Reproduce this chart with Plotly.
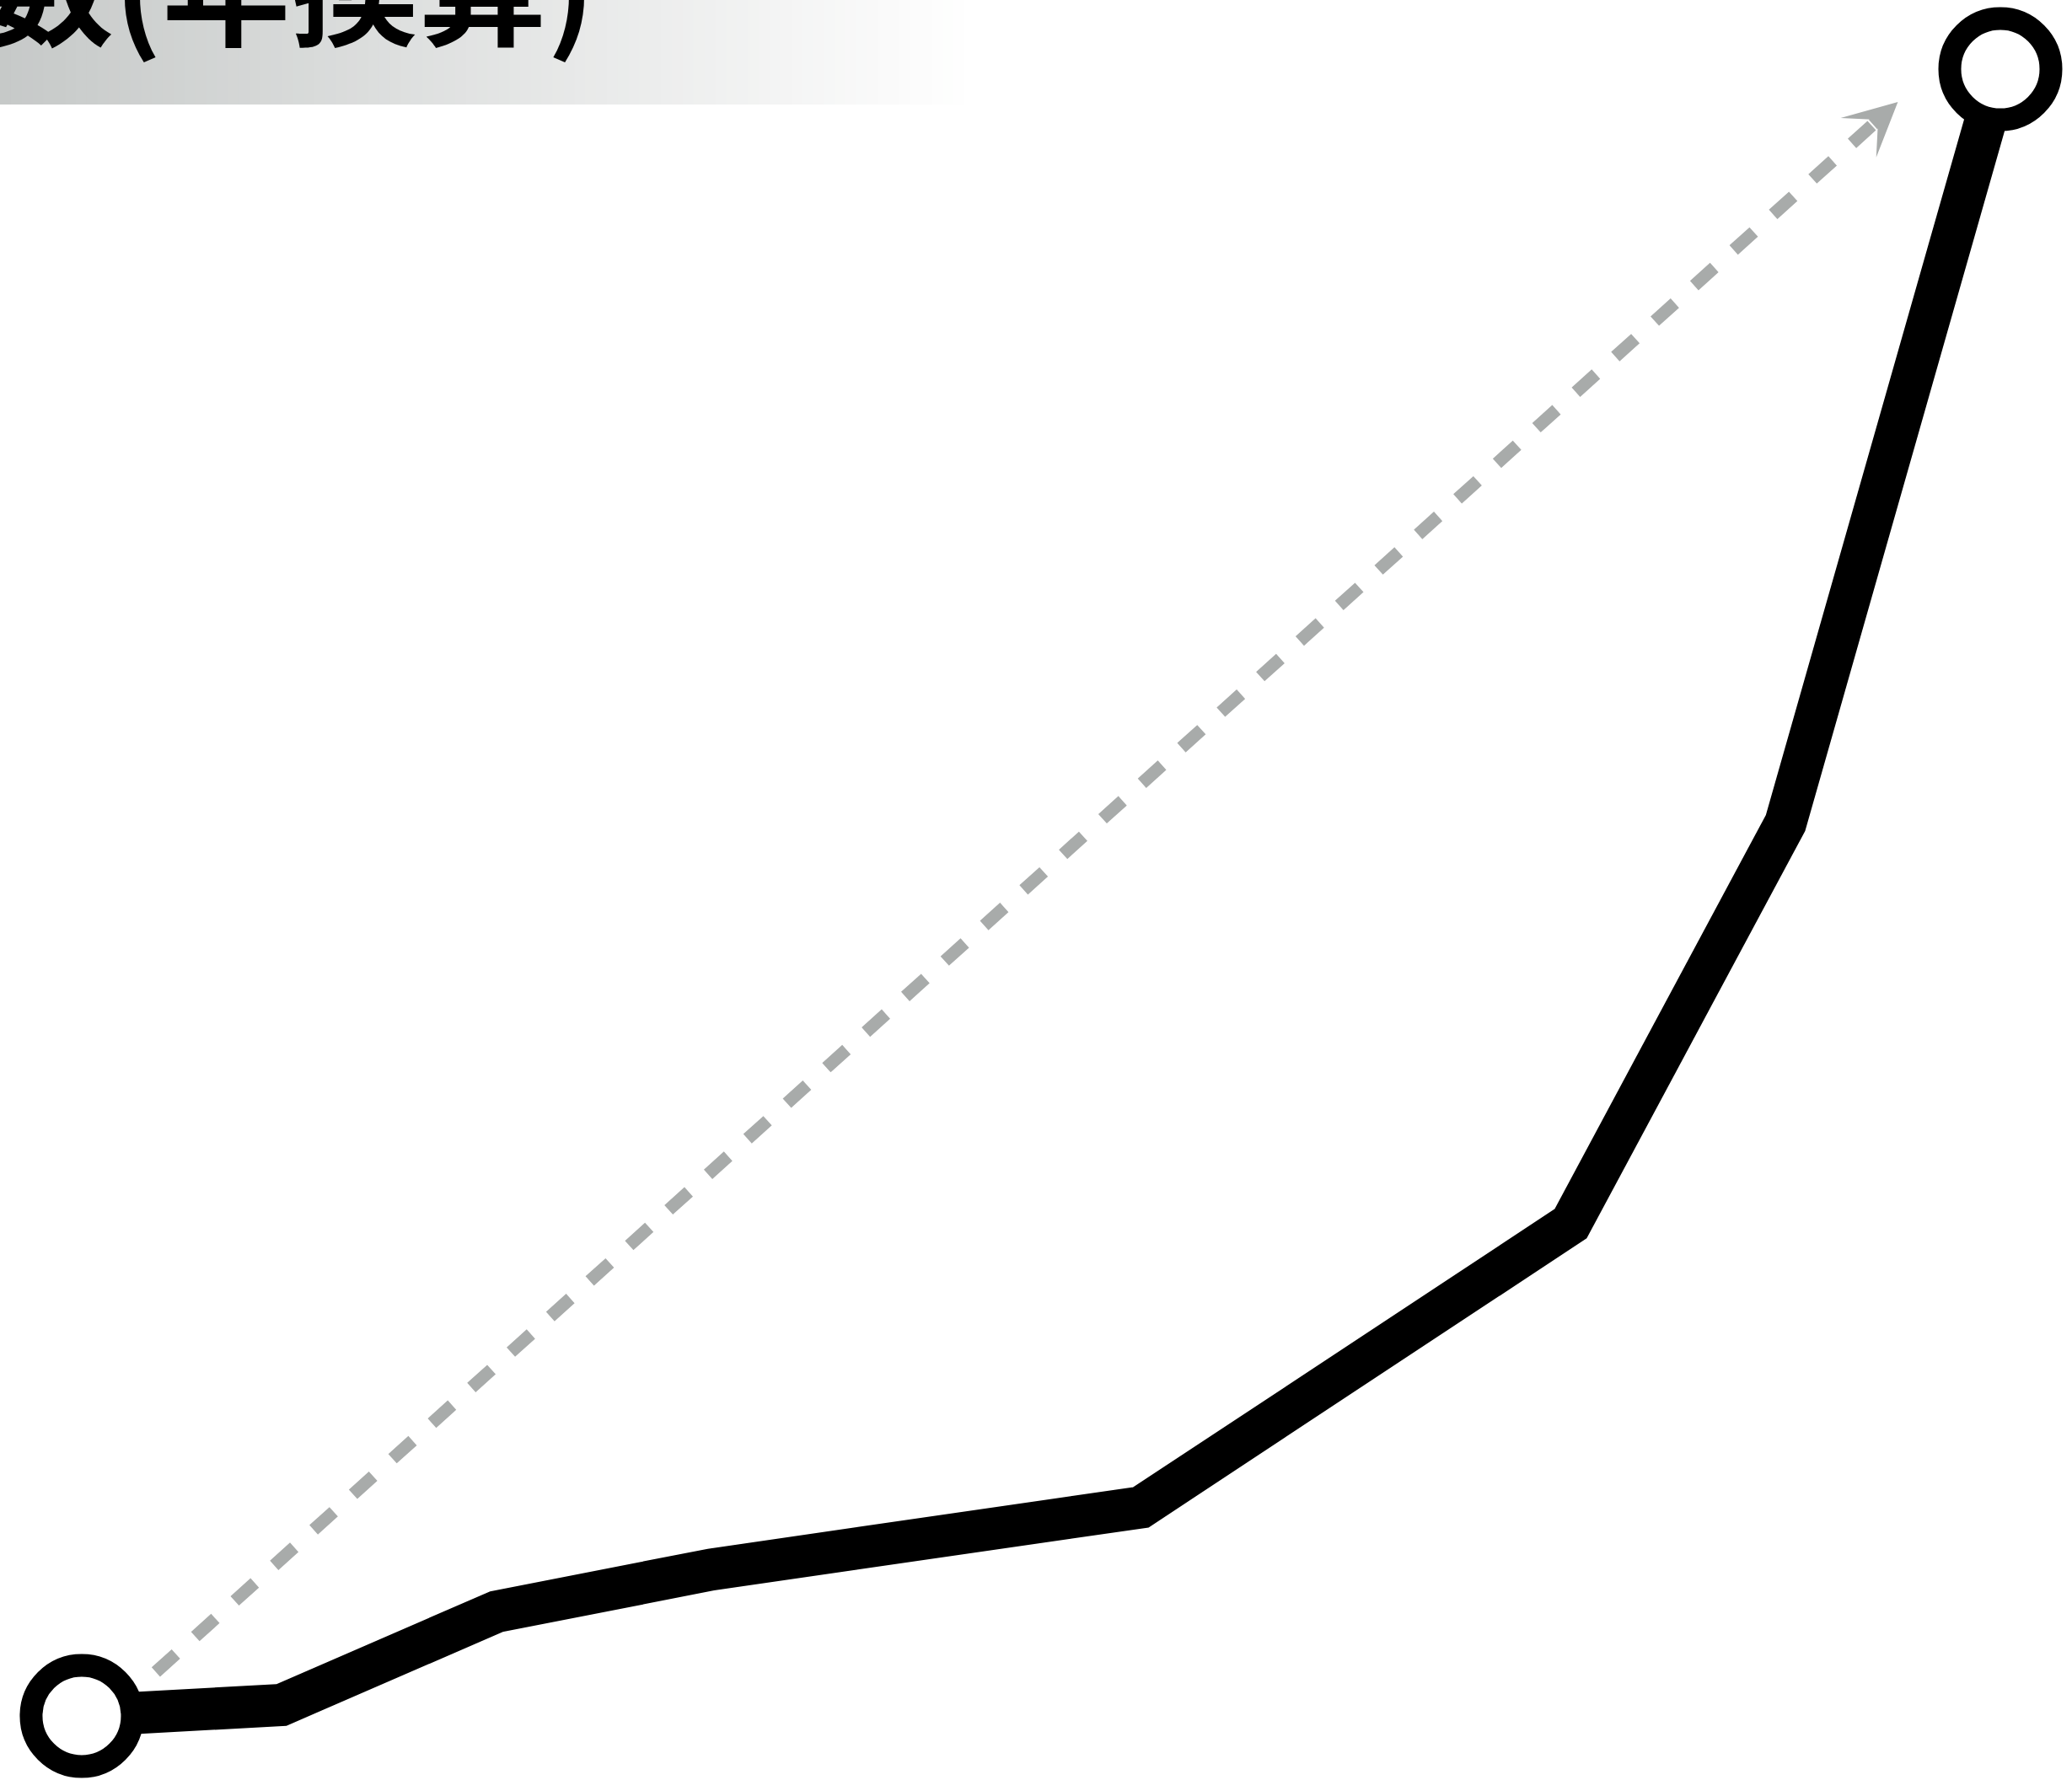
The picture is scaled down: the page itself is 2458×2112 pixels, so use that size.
import plotly.graph_objects as go

# data (period index, annualized count)
periods = [0.07, 1, 2, 3, 5, 6, 7, 8, 9]
counts = [100, 106, 157, 180, 214, 294, 369, 588, 1000]

# trend arrow (start, tip) in the same units
trend_x = [0.415, 8.523]
trend_y = [124, 982]

title_text = "数(年換算)"

W, H = 2458, 2112
x_range = [-0.3104, 9.3335]
y_range = [64.99, 1037.77]

fig = go.Figure()

# dashed trend shaft, stops short of the arrow head
t_end = 0.985
shaft_x = [trend_x[0], trend_x[0] + (trend_x[1] - trend_x[0]) * t_end]
shaft_y = [trend_y[0], trend_y[0] + (trend_y[1] - trend_y[0]) * t_end]
fig.add_trace(go.Scatter(
    x=shaft_x, y=shaft_y, mode="lines",
    line=dict(color="#a8abaa", width=15, dash="32px,31px"),
    hoverinfo="skip", showlegend=False,
))

fig.add_trace(go.Scatter(
    x=periods, y=counts, mode="lines",
    line=dict(color="#000000", width=50),
    hoverinfo="skip", showlegend=False,
))

fig.add_trace(go.Scatter(
    x=[periods[0], periods[-1]], y=[counts[0], counts[-1]], mode="markers",
    marker=dict(size=120, color="#ffffff", line=dict(color="#000000", width=27)),
    hoverinfo="skip", showlegend=False,
))

fig.add_annotation(
    x=trend_x[1], y=trend_y[1], xref="x", yref="y",
    ax=shaft_x[1], ay=shaft_y[1], axref="x", ayref="y",
    text="", showarrow=True, arrowhead=3, arrowsize=0.7,
    arrowwidth=15, arrowcolor="#a8abaa", standoff=0,
)

# grey gradient banner behind the title
n_strips = 90
band_w = 1157
band_h = 124
c0 = (198, 201, 200)
for i in range(n_strips):
    f = (i + 0.5) / n_strips
    r = round(c0[0] + (255 - c0[0]) * f)
    g = round(c0[1] + (255 - c0[1]) * f)
    b = round(c0[2] + (255 - c0[2]) * f)
    fig.add_shape(
        type="rect", xref="paper", yref="paper", layer="below",
        x0=band_w * i / n_strips / W, x1=band_w * (i + 1) / n_strips / W + 0.0005,
        y0=1 - band_h / H, y1=1,
        fillcolor=f"rgb({r},{g},{b})", line=dict(width=0),
    )

fig.add_trace(go.Scatter(
    x=[706], y=[5], xaxis="x2", yaxis="y2", mode="text",
    text=[title_text], textposition="middle left",
    textfont=dict(family="Noto Sans CJK JP", size=152, color="#000000", weight=700),
    hoverinfo="skip", showlegend=False,
))

fig.update_layout(
    width=W, height=H,
    margin=dict(l=0, r=0, t=0, b=0, pad=0),
    paper_bgcolor="#ffffff", plot_bgcolor="rgba(0,0,0,0)",
    xaxis=dict(range=x_range, visible=False, fixedrange=True),
    yaxis=dict(range=y_range, visible=False, fixedrange=True),
    xaxis2=dict(range=[0, W], overlaying="x", visible=False, fixedrange=True),
    yaxis2=dict(range=[H, 0], overlaying="y", visible=False, fixedrange=True),
    showlegend=False,
)

fig.write_html(
    "out.html",
    config={"displayModeBar": False},
    post_script="document.body.style.margin='0';document.body.style.overflow='hidden';",
)
